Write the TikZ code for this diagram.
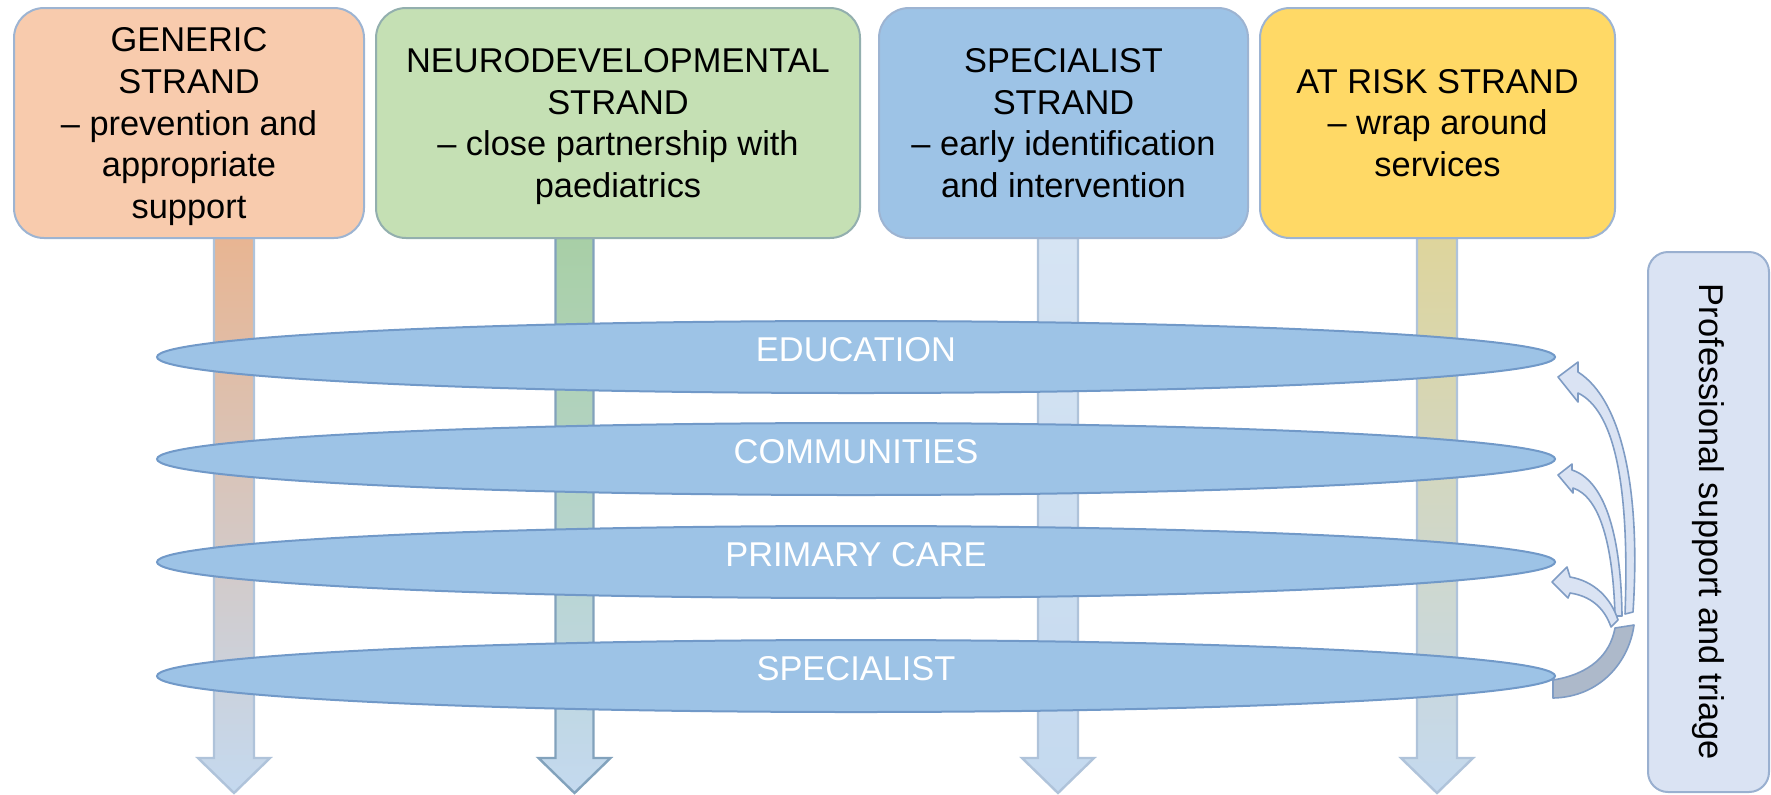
\documentclass[tikz,border=0pt]{standalone}
\usepackage{fontspec}
\setmainfont{Liberation Sans}
\usetikzlibrary{shapes.geometric}
\definecolor{genfill}{HTML}{F8CBAD}
\definecolor{neufill}{HTML}{C5E0B4}
\definecolor{spefill}{HTML}{9DC3E6}
\definecolor{riskfill}{HTML}{FFD966}
\definecolor{boxline}{HTML}{9DB4D2}
\definecolor{neuline}{HTML}{93AFAE}
\definecolor{elfill}{HTML}{9DC3E6}
\definecolor{elline}{HTML}{7199C8}
\definecolor{sidefill}{HTML}{DAE3F3}
\definecolor{sideline}{HTML}{9AB0D0}
\definecolor{curvefill}{HTML}{DAE3F3}
\definecolor{curveline}{HTML}{7F9CC4}
\definecolor{basefill}{HTML}{ADB9CA}
\definecolor{arrowblue}{HTML}{C4D9EF}
\definecolor{arrowline}{HTML}{AFC3DA}
\definecolor{genshaft}{HTML}{E8B592}
\definecolor{genmid}{HTML}{CDC4C6}
\definecolor{neushaft}{HTML}{A8CFA6}
\definecolor{neumid}{HTML}{B2CFD2}
\definecolor{neuarrowline}{HTML}{82A2BC}
\definecolor{speshaft}{HTML}{D6E4F3}
\definecolor{riskshaft}{HTML}{DED59C}
\definecolor{riskmid}{HTML}{C8D3CA}
\newcommand\nodepth[1]{\raisebox{0pt}[\height][0pt]{#1}}
\begin{document}
\begin{tikzpicture}[x=0.5pt,y=-0.5pt,
  strandbox/.style={draw=boxline, line width=1pt, rounded corners=15pt, align=center,
    inner sep=0pt, minimum height=115pt, font=\fontsize{17.2}{20.8}\selectfont, text=black},
  layer/.style={ellipse, draw=elline, line width=1pt, fill=elfill,
    minimum width=699pt, minimum height=36pt, inner sep=0pt},
  layertext/.style={text=white, font=\fontsize{17.2}{20.8}\selectfont, inner sep=0pt, yshift=3.5pt},
  strandarrow/.style={line width=1.2pt, line join=miter, draw=arrowline},
  curvearrow/.style={fill=curvefill, draw=curveline, line width=0.8pt, line join=round},
  sidebox/.style={draw=sideline, fill=sidefill, line width=1pt, rounded corners=10pt,
    minimum width=270pt, minimum height=60.5pt, inner sep=0pt, font=\fontsize{17.2}{20.8}\selectfont}
]
\useasboundingbox (0,0) rectangle (1771,794);

% shaft anchor coordinates
\coordinate (ga) at (234,238);
\coordinate (na) at (574.5,238);
\coordinate (sa) at (1058,238);
\coordinate (ra) at (1437,238);

% vertical strand arrows
\draw[strandarrow, top color=genshaft, middle color=genmid, bottom color=arrowblue, shift={(ga)}]
  (-20,0) -- (20,0) -- (20,520) -- (36,520) -- (0,555) -- (-36,520) -- (-20,520) -- cycle;
\draw[strandarrow, draw=neuarrowline, top color=neushaft, middle color=neumid, bottom color=arrowblue, shift={(na)}]
  (-19,0) -- (19,0) -- (19,520) -- (36,520) -- (0,555) -- (-36,520) -- (-19,520) -- cycle;
\draw[strandarrow, top color=speshaft, bottom color=arrowblue, shift={(sa)}]
  (-20,0) -- (20,0) -- (20,520) -- (36,520) -- (0,555) -- (-36,520) -- (-20,520) -- cycle;
\draw[strandarrow, top color=riskshaft, middle color=riskmid, bottom color=arrowblue, shift={(ra)}]
  (-20,0) -- (20,0) -- (20,520) -- (36,520) -- (0,555) -- (-36,520) -- (-20,520) -- cycle;

% strand boxes
\node[strandbox, fill=genfill, minimum width=175pt] (gen) at (189,123)
  {GENERIC\\STRAND\\– prevention and\\appropriate\\\nodepth{support}};
\node[strandbox, draw=neuline, fill=neufill, minimum width=242pt] (neu) at (618,123)
  {NEURODEVELOPMENTAL\\STRAND\\– close partnership with\\\nodepth{paediatrics}};
\node[strandbox, fill=spefill, minimum width=184.5pt] (spe) at (1063.5,123)
  {SPECIALIST\\STRAND\\– early identification\\and intervention};
\node[strandbox, fill=riskfill, minimum width=177.5pt] (risk) at (1437.5,123)
  {AT RISK STRAND\\– wrap around\\services};

% layers
\node[layer] (edu) at (856,357) {};
\node[layertext] (edut) at (edu.center) {EDUCATION};
\node[layer] (com) at (856,459) {};
\node[layertext] (comt) at (com.center) {COMMUNITIES};
\node[layer] (pri) at (856,562) {};
\node[layertext] (prit) at (pri.center) {PRIMARY CARE};
\node[layer] (spl) at (856,676) {};
\node[layertext] (splt) at (spl.center) {SPECIALIST};

% curved arrows back to the upper layers
\draw[curvearrow]
  (1633,612) .. controls (1641,490) and (1622,400) .. (1578,372)
  -- (1578,362) -- (1558,377) -- (1578,402) -- (1578,393)
  .. controls (1613,410) and (1630,480) .. (1625,614) -- cycle;
\draw[curvearrow]
  (1572,470) .. controls (1603,480) and (1621,530) .. (1622,616)
  -- (1615,616) .. controls (1613,545) and (1600,497) .. (1573,488)
  -- (1573,493) -- (1558,475) -- (1572,464) -- cycle;
\draw[curvearrow]
  (1570,577) .. controls (1594,581) and (1611,598) .. (1618,620)
  -- (1611,627) .. controls (1604,607) and (1590,596) .. (1570,593)
  -- (1568,598) -- (1552,582) -- (1567,567) -- cycle;
\draw[fill=basefill, draw=curveline, line width=0.8pt, line join=round]
  (1553,680) -- (1553,698) .. controls (1600,697) and (1629,662) .. (1634,625)
  -- (1615,628) .. controls (1610,655) and (1590,674) .. (1553,680) -- cycle;

% side box
\node[sidebox, rotate=-90] (side) at (1708.5,522) {Professional support and triage};
\end{tikzpicture}
\end{document}
